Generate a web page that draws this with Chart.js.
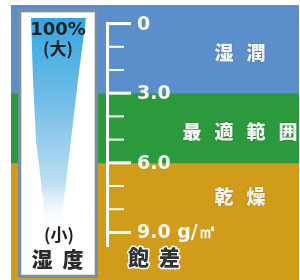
<!DOCTYPE html>
<html>
<head>
<meta charset="utf-8">
<script src="https://cdn.jsdelivr.net/npm/chart.js@4"></script>
<style>
html,body{margin:0;padding:0;background:#fff;}
canvas{display:block;}
</style>
</head>
<body>
<canvas id="c" width="300" height="280"></canvas>
<script>
// ---- data ----
const bandNames = ["湿潤", "最適範囲", "乾燥"];
const bandStart = [-0.8, 3, 6];
const bandEnd = [3, 6, 11.05];
const bandColors = ["#5b8fcc", "#2b9a3c", "#d29c1b"];
const tickValues = [0, 3, 6, 9];
const tickLabels = ["0", "3.0", "6.0", "9.0 g/㎥"];
const axisTitle = "飽差";
const gaugeTop = ["100%", "(大)"];
const gaugeBottom = ["(小)", "湿度"];

// ---- style / layout ----
const AX = 107.5;           // axis x pixel
const bandLabelAt = [1.25, 4.65, 7.45];
const latin = "bold 19px 'DejaVu Sans'";
const cjk = "900 19px 'Noto Sans CJK JP'";

function spaced(ctx, text, cx, cy, pitch, stroke) {
  const chars = Array.from(text);
  const n = chars.length;
  chars.forEach((ch, i) => {
    const x = cx + (i - (n - 1) / 2) * pitch;
    if (stroke) ctx.strokeText(ch, x, cy);
    else ctx.fillText(ch, x, cy);
  });
}

const deco = {
  id: 'deco',
  afterDatasetsDraw(chart) {
    const ctx = chart.ctx;
    const y = chart.scales.y;
    const px = v => y.getPixelForValue(v);
    ctx.save();

    // humidity box
    ctx.fillStyle = "#ffffff";
    ctx.fillRect(19, 10, 78, 267);
    ctx.strokeStyle = "#7a8da5";
    ctx.lineWidth = 3;
    ctx.strokeRect(19.5, 10.5, 77, 266);
    ctx.strokeStyle = "#d8dde3";
    ctx.lineWidth = 1;
    ctx.strokeRect(21.5, 12.5, 73, 262);

    // tapered gradient
    const g = ctx.createLinearGradient(0, 18, 0, 225);
    g.addColorStop(0, "#33a7e1");
    g.addColorStop(0.4, "#72bde8");
    g.addColorStop(0.8, "#bcdff2");
    g.addColorStop(1, "rgba(235,245,251,0)");
    ctx.fillStyle = g;
    ctx.beginPath();
    ctx.moveTo(31, 18);
    ctx.lineTo(86, 18);
    ctx.lineTo(78, 80);
    ctx.lineTo(71, 140);
    ctx.lineTo(61, 225);
    ctx.lineTo(46, 225);
    ctx.lineTo(36, 140);
    ctx.lineTo(33, 80);
    ctx.closePath();
    ctx.fill();

    // gauge texts
    ctx.fillStyle = "#222";
    ctx.textAlign = "center";
    ctx.textBaseline = "middle";
    ctx.font = "bold 18px 'DejaVu Sans'";
    ctx.fillText(gaugeTop[0], 58, 30);
    ctx.font = "bold 17px 'Noto Sans CJK JP'";
    ctx.fillText(gaugeTop[1], 58, 49);
    ctx.fillText(gaugeBottom[0], 59, 235);
    ctx.fillStyle = "#2b2b2b";
    ctx.font = "900 21px 'Noto Sans CJK JP'";
    spaced(ctx, gaugeBottom[1], 57.5, 259, 31);

    // axis
    ctx.fillStyle = "#ffffff";
    const axisEnd = 9.63;
    ctx.fillRect(AX - 1.5, px(0) - 1.5, 3, px(axisEnd) - px(0) + 1.5);
    for (let v = 0; v <= 9; v++) {
      const major = tickValues.includes(v);
      const len = major ? 25 : 18;
      const h = major ? 3 : 2;
      ctx.fillRect(AX - 1.5, px(v) - h / 2, len, h);
    }
    ctx.font = latin;
    ctx.textAlign = "left";
    ctx.fillStyle = "#f7f7f7";
    tickValues.forEach((v, i) => {
      ctx.fillText(tickLabels[i], 137, px(v) + 1);
    });

    // band labels
    ctx.font = cjk;
    ctx.textAlign = "center";
    ctx.fillStyle = "#f4f4f4";
    ctx.shadowColor = "rgba(0,0,0,0.25)";
    ctx.shadowBlur = 2;
    bandNames.forEach((n, i) => {
      spaced(ctx, n, 240, px(bandLabelAt[i]), 32);
    });
    ctx.shadowBlur = 0;
    ctx.shadowColor = "transparent";

    // axis title
    ctx.font = "900 21px 'Noto Sans CJK JP'";
    ctx.lineWidth = 3;
    ctx.strokeStyle = "#ffffff";
    ctx.lineJoin = "round";
    spaced(ctx, axisTitle, 154, 257, 31, true);
    ctx.fillStyle = "#333";
    spaced(ctx, axisTitle, 154, 257, 31);

    ctx.restore();
  }
};

new Chart(document.getElementById('c'), {
  type: 'bar',
  data: {
    labels: [""],
    datasets: bandNames.map((n, i) => ({
      label: n,
      data: [[bandStart[i], bandEnd[i]]],
      backgroundColor: bandColors[i],
      borderWidth: 0,
      barPercentage: 1,
      categoryPercentage: 1
    }))
  },
  options: {
    responsive: false,
    animation: false,
    devicePixelRatio: 1,
    layout: { padding: { left: 11, right: 1, top: 5, bottom: 0 } },
    scales: {
      x: { display: false, stacked: true },
      y: { display: false, reverse: true, min: -0.8, max: 11.05, stacked: false }
    },
    plugins: { legend: { display: false }, tooltip: { enabled: false } }
  },
  plugins: [deco]
});
</script>
</body>
</html>
